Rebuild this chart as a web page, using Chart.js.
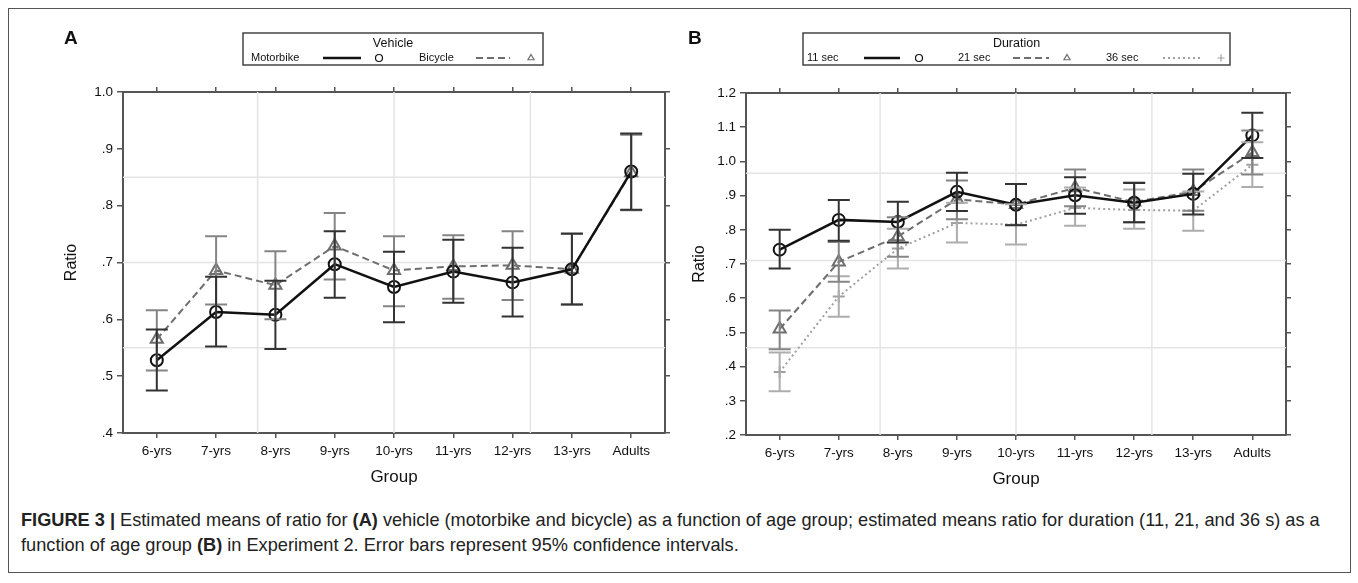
<!DOCTYPE html>
<html>
<head>
<meta charset="utf-8">
<script src="https://cdn.jsdelivr.net/npm/chart.js@4.4.1/dist/chart.umd.min.js"></script>
<style>
    body { margin: 0; background: #fff; width: 1358px; height: 583px; overflow: hidden; position: relative; font-family: "Liberation Sans", Arial, sans-serif; }
    #frame { position: absolute; left: 8px; top: 8px; width: 1343px; height: 565px; border: 1.5px solid #555; box-sizing: border-box; }
    .wrap { position: absolute; top: 0; height: 500px; }
    .panel { position: absolute; top: 27px; font: bold 19px "Liberation Sans", Arial, sans-serif; color: #111; }
    #caption { position: absolute; left: 21px; top: 508px; font: 18.2px "Liberation Sans Narrow", "Liberation Sans", Arial, sans-serif; line-height: 25px; color: #222; white-space: nowrap; }
</style>
</head>
<body>
<div id="frame"></div>
<div class="wrap" style="left:0;width:680px"><canvas id="chartA" width="680" height="500"></canvas></div>
<div class="wrap" style="left:680px;width:678px"><canvas id="chartB" width="678" height="500"></canvas></div>
<div class="panel" style="left:64px">A</div>
<div class="panel" style="left:688px">B</div>
<div id="caption"><b>FIGURE 3 |</b> Estimated means of ratio for <b>(A)</b> vehicle (motorbike and bicycle) as a function of age group; estimated means ratio for duration (11, 21, and 36 s) as a<br>function of age group <b>(B)</b> in Experiment 2. Error bars represent 95% confidence intervals.</div>
<script>
// --- Data ---
const groups = ['6-yrs', '7-yrs', '8-yrs', '9-yrs', '10-yrs', '11-yrs', '12-yrs', '13-yrs', 'Adults'];

// Panel A: vehicle
const motorbikeMean = [0.528, 0.613, 0.608, 0.697, 0.657, 0.684, 0.665, 0.688, 0.860];
const motorbikeLow  = [0.475, 0.552, 0.548, 0.638, 0.595, 0.629, 0.605, 0.626, 0.793];
const motorbikeHigh = [0.582, 0.675, 0.668, 0.755, 0.719, 0.740, 0.726, 0.751, 0.927];
const bicycleMean = [0.565, 0.686, 0.660, 0.729, 0.686, 0.693, 0.695, 0.688, 0.858];
const bicycleLow  = [0.510, 0.626, 0.600, 0.670, 0.623, 0.636, 0.634, 0.626, 0.792];
const bicycleHigh = [0.616, 0.746, 0.720, 0.787, 0.746, 0.748, 0.755, 0.750, 0.925];

// Panel B: duration
const sec11Mean = [0.742, 0.829, 0.823, 0.911, 0.873, 0.901, 0.879, 0.905, 1.076];
const sec11Low  = [0.687, 0.768, 0.763, 0.855, 0.813, 0.847, 0.822, 0.845, 1.010];
const sec11High = [0.800, 0.887, 0.882, 0.967, 0.934, 0.954, 0.937, 0.964, 1.142];
const sec21Mean = [0.510, 0.706, 0.780, 0.889, 0.874, 0.923, 0.881, 0.912, 1.026];
const sec21Low  = [0.451, 0.648, 0.721, 0.831, 0.814, 0.869, 0.822, 0.856, 0.962];
const sec21High = [0.564, 0.764, 0.837, 0.944, 0.934, 0.976, 0.938, 0.976, 1.090];
const sec36Mean = [0.384, 0.605, 0.745, 0.820, 0.815, 0.864, 0.858, 0.856, 0.990];
const sec36Low  = [0.328, 0.546, 0.687, 0.763, 0.757, 0.812, 0.803, 0.797, 0.925];
const sec36High = [0.441, 0.664, 0.803, 0.879, 0.875, 0.924, 0.918, 0.912, 1.056];

// tick labels
const yTicksA = ['.4', '.5', '.6', '.7', '.8', '.9', '1.0'];
const yTickValsA = [0.4, 0.5, 0.6, 0.7, 0.8, 0.9, 1.0];
const yTicksB = ['.2', '.3', '.4', '.5', '.6', '.7', '.8', '.9', '1.0', '1.1', '1.2'];
const yTickValsB = [0.2, 0.3, 0.4, 0.5, 0.6, 0.7, 0.8, 0.9, 1.0, 1.1, 1.2];

const AXIS = '#555';
const TEXT = '#111';
const FONT = '"Liberation Sans", Arial, sans-serif';

const toPoints = arr => arr.map((v, i) => ({ x: i, y: v }));

// faint background grid (Stata style) + error bars + boxed legend
const refGrid = {
    id: 'refGrid',
    beforeDatasetsDraw(chart, args, opts) {
        const { ctx, chartArea: a, scales } = chart;
        ctx.save();
        ctx.strokeStyle = '#e4e4e4';
        ctx.lineWidth = 1.5;
        opts.xs.forEach(v => {
            const px = scales.x.getPixelForValue(v);
            ctx.beginPath(); ctx.moveTo(px, a.top); ctx.lineTo(px, a.bottom); ctx.stroke();
        });
        opts.ys.forEach(v => {
            const py = scales.y.getPixelForValue(v);
            ctx.beginPath(); ctx.moveTo(a.left, py); ctx.lineTo(a.right, py); ctx.stroke();
        });
        ctx.restore();
    }
};

const errorBars = {
    id: 'errorBars',
    afterDatasetsDraw(chart) {
        const ctx = chart.ctx;
        const yScale = chart.scales.y;
        for (let i = chart.data.datasets.length - 1; i >= 0; i--) {
            const ds = chart.data.datasets[i];
            const meta = chart.getDatasetMeta(i);
            ctx.save();
            ctx.strokeStyle = ds.errorColor;
            ctx.lineWidth = 2;
            meta.data.forEach((pt, j) => {
                const lo = yScale.getPixelForValue(ds.low[j]);
                const hi = yScale.getPixelForValue(ds.high[j]);
                ctx.beginPath();
                ctx.moveTo(pt.x, lo); ctx.lineTo(pt.x, hi);
                ctx.moveTo(pt.x - 11, lo); ctx.lineTo(pt.x + 11, lo);
                ctx.moveTo(pt.x - 11, hi); ctx.lineTo(pt.x + 11, hi);
                ctx.stroke();
            });
            ctx.restore();
        }
    }
};

const boxLegend = {
    id: 'boxLegend',
    afterDraw(chart, args, opts) {
        const ctx = chart.ctx;
        const [x0, y0, x1, y1] = opts.box;
        ctx.save();
        ctx.strokeStyle = '#444';
        ctx.lineWidth = 1.5;
        ctx.strokeRect(x0, y0, x1 - x0, y1 - y0);
        ctx.fillStyle = TEXT;
        ctx.textAlign = 'center';
        ctx.textBaseline = 'middle';
        ctx.font = '12.5px ' + FONT;
        ctx.fillText(opts.title, (x0 + x1) / 2, y0 + 11);
        const rowY = y1 - 7;
        opts.items.forEach(it => {
            const ds = chart.data.datasets[it.dataset];
            ctx.fillStyle = TEXT;
            ctx.textAlign = 'left';
            ctx.font = '11px ' + FONT;
            ctx.fillText(ds.label, it.text, rowY);
            ctx.strokeStyle = ds.borderColor;
            ctx.lineWidth = ds.borderWidth;
            ctx.setLineDash(ds.borderDash || []);
            ctx.beginPath(); ctx.moveTo(it.line[0], rowY); ctx.lineTo(it.line[1], rowY); ctx.stroke();
            ctx.setLineDash([]);
            ctx.fillStyle = 'rgba(0,0,0,0)';
            ctx.strokeStyle = ds.pointBorderColor;
            ctx.lineWidth = 1.2;
            Chart.helpers.drawPoint(ctx, {
                pointStyle: ds.pointStyle, radius: 3.5, rotation: 0, borderWidth: 1.2
            }, it.mark, rowY);
        });
        ctx.restore();
    }
};

function makeScales(ticksVals, tickLabels, yLeftPad) {
    const xTickBuild = s => { s.ticks = groups.map((g, i) => ({ value: i })); };
    const yTickBuild = s => { s.ticks = ticksVals.map(v => ({ value: v })); };
    const gridOut = len => ({ drawOnChartArea: false, tickLength: len, color: AXIS, lineWidth: 1.5 });
    const border = { color: AXIS, width: 2 };
    return {
        x: {
            type: 'linear', position: 'bottom', min: -0.57, max: 8.57,
            afterBuildTicks: xTickBuild,
            afterFit: s => { s.height = 55; },
            ticks: { callback: v => groups[v], color: TEXT, font: { family: FONT, size: 13.5 }, padding: 5, maxRotation: 0, autoSkip: false },
            grid: gridOut(5), border,
            title: { display: true, text: 'Group', color: TEXT, font: { family: FONT, size: 17 }, padding: 0 }
        },
        x2: {
            type: 'linear', position: 'top', axis: 'x', min: -0.57, max: 8.57,
            afterBuildTicks: xTickBuild,
            afterFit: s => { s.height = 6; },
            ticks: { display: false },
            grid: gridOut(5), border
        },
        y: {
            type: 'linear', position: 'left', min: ticksVals[0], max: ticksVals[ticksVals.length - 1],
            afterBuildTicks: yTickBuild,
            afterFit: s => { s.width = yLeftPad; },
            ticks: { callback: (v, i) => tickLabels[i], color: TEXT, font: { family: FONT, size: 13.5 }, padding: 4 },
            grid: gridOut(6), border,
            title: { display: true, text: 'Ratio', color: TEXT, font: { family: FONT, size: 16 }, padding: 0 }
        },
        y2: {
            type: 'linear', position: 'right', axis: 'y', min: ticksVals[0], max: ticksVals[ticksVals.length - 1],
            afterBuildTicks: yTickBuild,
            afterFit: s => { s.width = 6; },
            ticks: { display: false },
            grid: gridOut(5), border
        }
    };
}

function series(label, mean, low, high, style) {
    return Object.assign({
        label: label,
        data: toPoints(mean),
        low: low,
        high: high,
        fill: false,
        tension: 0,
        pointBackgroundColor: 'rgba(0,0,0,0)',
        pointBorderWidth: 2
    }, style);
}

const solidStyle = { borderColor: '#111', borderWidth: 2.5, pointStyle: 'circle', pointRadius: 6, pointBorderColor: '#111', errorColor: '#333' };
const dashStyle = { borderColor: '#6e6e6e', borderWidth: 2, borderDash: [7, 4], pointStyle: 'triangle', pointRadius: 7, pointBorderColor: '#6e6e6e', errorColor: '#858585' };
const dotStyle = { borderColor: '#a0a0a0', borderWidth: 2, borderDash: [2, 3], pointStyle: 'cross', pointRadius: 6, pointBorderColor: '#a0a0a0', errorColor: '#adadad' };

// --- Panel A ---
new Chart(document.getElementById('chartA'), {
    type: 'line',
    data: {
        datasets: [
            series('Motorbike', motorbikeMean, motorbikeLow, motorbikeHigh, solidStyle),
            series('Bicycle', bicycleMean, bicycleLow, bicycleHigh, dashStyle)
        ]
    },
    options: {
        responsive: false,
        animation: false,
        layout: { padding: { left: 62, top: 86, right: 9, bottom: 12 } },
        scales: makeScales(yTickValsA, yTicksA, 61),
        plugins: {
            legend: { display: false },
            tooltip: { enabled: false },
            refGrid: { xs: [1.7, 4, 6.3], ys: [0.55, 0.70, 0.85] },
            boxLegend: {
                box: [243, 33, 543, 65], title: 'Vehicle',
                items: [
                    { dataset: 0, text: 251, line: [323, 361], mark: 379 },
                    { dataset: 1, text: 419, line: [476, 510], mark: 531 }
                ]
            }
        }
    },
    plugins: [refGrid, errorBars, boxLegend]
});

// --- Panel B ---
new Chart(document.getElementById('chartB'), {
    type: 'line',
    data: {
        datasets: [
            series('11 sec', sec11Mean, sec11Low, sec11High, solidStyle),
            series('21 sec', sec21Mean, sec21Low, sec21High, dashStyle),
            series('36 sec', sec36Mean, sec36Low, sec36High, dotStyle)
        ]
    },
    options: {
        responsive: false,
        animation: false,
        layout: { padding: { left: 10, top: 87, right: 66, bottom: 10 } },
        scales: makeScales(yTickValsB, yTicksB, 56),
        plugins: {
            legend: { display: false },
            tooltip: { enabled: false },
            refGrid: { xs: [1.7, 4, 6.3], ys: [0.455, 0.71, 0.965] },
            boxLegend: {
                box: [123, 33, 550, 65], title: 'Duration',
                items: [
                    { dataset: 0, text: 127, line: [184, 220], mark: 239 },
                    { dataset: 1, text: 278, line: [333, 369], mark: 387 },
                    { dataset: 2, text: 426, line: [483, 521], mark: 541 }
                ]
            }
        }
    },
    plugins: [refGrid, errorBars, boxLegend]
});
</script>
</body>
</html>
